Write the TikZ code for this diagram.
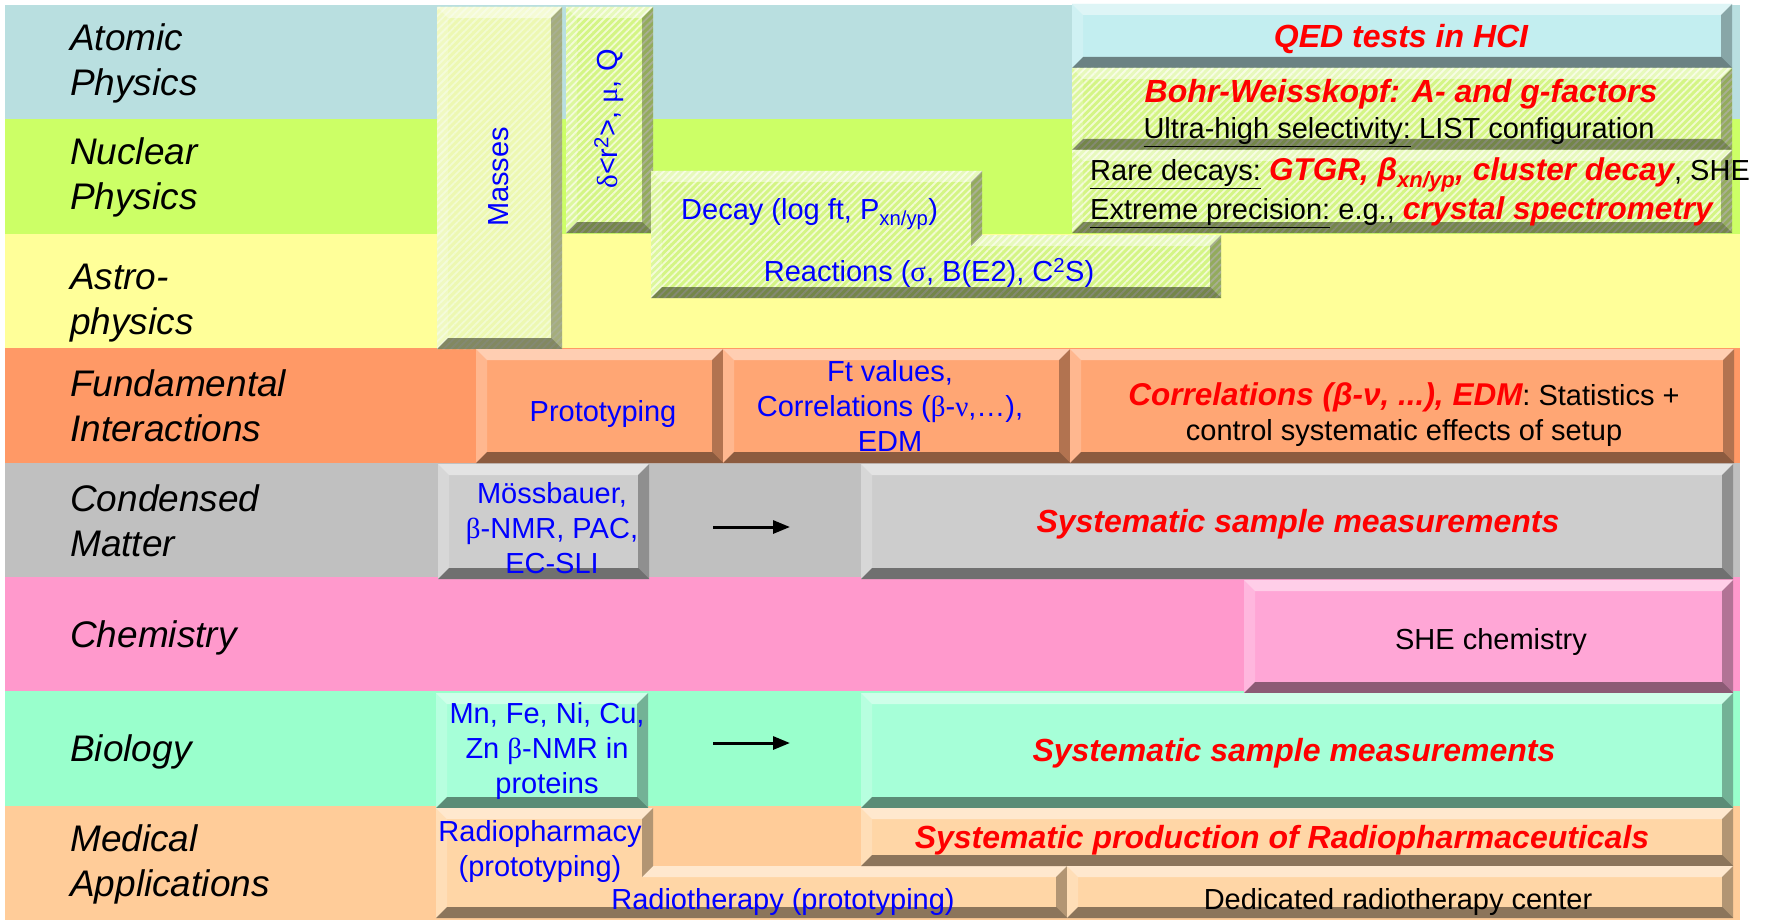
\documentclass[tikz,border=0pt]{standalone}
\usepackage{fontspec}
\setmainfont{Liberation Sans}
\newfontfamily\grkfont{Liberation Serif}
\usetikzlibrary{arrows.meta,patterns.meta}
\definecolor{bandAtomic}{HTML}{B9DFE0}
\definecolor{bandNuclear}{HTML}{CCFF66}
\definecolor{bandAstro}{HTML}{FFFF99}
\definecolor{bandFund}{HTML}{FF9966}
\definecolor{bandCond}{HTML}{C0C0C0}
\definecolor{bandChem}{HTML}{FF99CC}
\definecolor{bandBio}{HTML}{99FFCC}
\definecolor{bandMed}{HTML}{FFCC99}
\definecolor{boxQed}{HTML}{C3EEF0}
\definecolor{boxGreen}{HTML}{D4F585}
\definecolor{boxPale}{HTML}{EDF8B2}
\definecolor{boxHatch}{HTML}{F2FBD2}
\definecolor{boxOrange}{HTML}{FFA674}
\definecolor{boxGrey}{HTML}{CDCDCD}
\definecolor{boxPink}{HTML}{FFA6D6}
\definecolor{boxMint}{HTML}{A6FFD8}
\definecolor{boxPeach}{HTML}{FFD6A6}
\definecolor{txtBlue}{HTML}{0000FF}
\definecolor{txtRed}{HTML}{FF0000}
\newcommand{\gk}[1]{{\grkfont #1}}
\newcommand{\hi}[1]{{\color{txtRed}\bfseries\itshape\fontsize{31.5}{38}\selectfont #1}}

\begin{document}
\begin{tikzpicture}[x=1pt,y=-1pt,
    txt/.style={font=\fontsize{29}{35}\selectfont, inner sep=0pt, align=center},
    blu/.style={txt, text=txtBlue},
    hot/.style={txt, font=\bfseries\itshape\fontsize{32}{38}\selectfont, text=txtRed},
    lbl/.style={font=\itshape\fontsize{37}{45}\selectfont, inner sep=0pt, anchor=west, align=left},
    gslab/.style={fill=boxGreen, postaction={pattern={Lines[angle=45,distance=5pt,line width=1.8pt]}, pattern color=boxHatch}},
    pslab/.style={fill=boxPale, postaction={pattern={Lines[angle=45,distance=5pt,line width=1.8pt]}, pattern color=boxHatch}},
    arr/.style={-{Triangle[length=17pt,width=13pt]}, line width=3pt}]
    \useasboundingbox (0,0) rectangle (1768,920);
    \pgfmathsetmacro{\rowh}{114.4}
    \pgfmathsetmacro{\bv}{11}
    \tikzset{
        pics/slab/.style n args={7}{code={
            \fill[#7] (#1,#2) -- (#3,#2) -- (#3,#4) -- (#5,#4) -- (#5,#6) -- (#1,#6) -- cycle;
            \fill[white,opacity=.45] (#1,#2) -- (#3,#2) -- (#3-\bv,#2+\bv) -- (#1+\bv,#2+\bv) -- cycle
                (#3,#4) -- (#5,#4) -- (#5-\bv,#4+\bv) -- (#3-\bv,#4+\bv) -- cycle;
            \fill[white,opacity=.2] (#1,#2) -- (#1+\bv,#2+\bv) -- (#1+\bv,#6-\bv) -- (#1,#6) -- cycle;
            \fill[black,opacity=.3] (#3,#2) -- (#3,#4) -- (#3-\bv,#4+\bv) -- (#3-\bv,#2+\bv) -- cycle
                (#5,#4) -- (#5,#6) -- (#5-\bv,#6-\bv) -- (#5-\bv,#4+\bv) -- cycle;
            \fill[black,opacity=.45] (#1,#6) -- (#5,#6) -- (#5-\bv,#6-\bv) -- (#1+\bv,#6-\bv) -- cycle;
        }}
    };
    % bands and row labels
    \foreach \c/\t/\y [count=\i from 0] in {bandAtomic/{Atomic\\Physics}/63, bandNuclear/{Nuclear\\Physics}/177,
        bandAstro/{Astro-\\physics}/303, bandFund/{Fundamental\\Interactions}/406, bandCond/{Condensed\\Matter}/521,
        bandChem/{Chemistry}/638, bandBio/{Biology}/752, bandMed/{Medical\\Applications}/864}{
        \fill[\c] (5,5+\i*\rowh) rectangle (1740,5+\i*\rowh+\rowh);
        \node[lbl] (row\i) at (70,\y) {\t};
    }
    % atomic, nuclear, astro
    \pic {slab={437}{7}{562}{7}{562}{349}{pslab}};
    \pic {slab={566}{7}{653}{7}{653}{233}{gslab}};
    \pic {slab={651}{171}{982}{235}{1221}{298}{gslab}};
    \pic {slab={1072}{4}{1732}{4}{1732}{68}{fill=boxQed}};
    \pic {slab={1072}{68}{1732}{68}{1732}{150}{gslab}};
    \pic {slab={1072}{150}{1732}{150}{1732}{233}{gslab}};
    \node[blu,rotate=90] (masses) at (499,177) {Masses};
    \node[blu,rotate=90] (radius) at (609,119) {\gk{δ}<r\textsuperscript{2}>, \gk{μ}, Q};
    \node[blu,anchor=west] (decay) at (681,214) {Decay (log ft, P\textsubscript{xn/yp})};
    \node[blu] (react) at (929,273) {Reactions (\gk{σ}, B(E2), C\textsuperscript{2}S)};
    \node[hot] (qed) at (1401,39) {QED tests in HCI};
    \node[hot] (bohr) at (1401,94) {Bohr-Weisskopf: A- and g-factors};
    \node[txt] (select) at (1399,132) {\underline{Ultra-high selectivity:} LIST configuration};
    \node[txt,anchor=west] (rare) at (1090,175) {\underline{Rare decays:} \hi{GTGR, β\textsubscript{xn/yp}, cluster decay}, SHE};
    \node[txt,anchor=west] (precise) at (1090,212) {\underline{Extreme precision:} e.g., \hi{crystal spectrometry}};
    % fundamental interactions
    \pic {slab={476}{349}{723}{349}{723}{463}{fill=boxOrange}};
    \pic {slab={723}{349}{1070}{349}{1070}{463}{fill=boxOrange}};
    \pic {slab={1070}{349}{1734}{349}{1734}{463}{fill=boxOrange}};
    \node[blu] (proto) at (603,414) {Prototyping};
    \node[blu] (ftval) at (890,406) {Ft values,\\Correlations (\gk{β}-\gk{ν},…),\\EDM};
    \node[txt] (corr) at (1404,415) {\hi{Correlations (β-ν, ...), EDM}: Statistics +\\control systematic effects of setup};
    % condensed matter
    \pic {slab={438}{464}{649}{464}{649}{579}{fill=boxGrey}};
    \pic {slab={861}{464}{1733}{464}{1733}{579}{fill=boxGrey}};
    \node[blu] (moss) at (552,528) {Mössbauer,\\\gk{β}-NMR, PAC,\\EC-SLI};
    \node[hot] (syscm) at (1298,524) {Systematic sample measurements};
    \coordinate (cmA) at (713,527);
    \coordinate (cmB) at (790,527);
    \draw[arr] (cmA) -- (cmB);
    % chemistry
    \pic {slab={1244}{580}{1733}{580}{1733}{693}{fill=boxPink}};
    \node[txt] (she) at (1491,642) {SHE chemistry};
    % biology
    \pic {slab={436}{693}{648}{693}{648}{808}{fill=boxMint}};
    \pic {slab={861}{693}{1733}{693}{1733}{808}{fill=boxMint}};
    \node[blu] (metals) at (547,751) {Mn, Fe, Ni, Cu,\\Zn \gk{β}-NMR in\\proteins};
    \node[hot] (sysbio) at (1294,753) {Systematic sample measurements};
    \coordinate (bioA) at (713,743);
    \coordinate (bioB) at (790,743);
    \draw[arr] (bioA) -- (bioB);
    % medical applications
    \pic {slab={436}{808}{653}{866}{1067}{918}{fill=boxPeach}};
    \pic {slab={861}{808}{1733}{808}{1733}{866}{fill=boxPeach}};
    \pic {slab={1067}{866}{1733}{866}{1733}{918}{fill=boxPeach}};
    \node[blu] (pharm) at (540,851) {Radiopharmacy\\(prototyping)};
    \node[blu] (therapy) at (783,902) {Radiotherapy (prototyping)};
    \node[hot] (sysprod) at (1282,840) {Systematic production of Radiopharmaceuticals};
    \node[txt] (dedic) at (1398,902) {Dedicated radiotherapy center};
\end{tikzpicture}
\end{document}
